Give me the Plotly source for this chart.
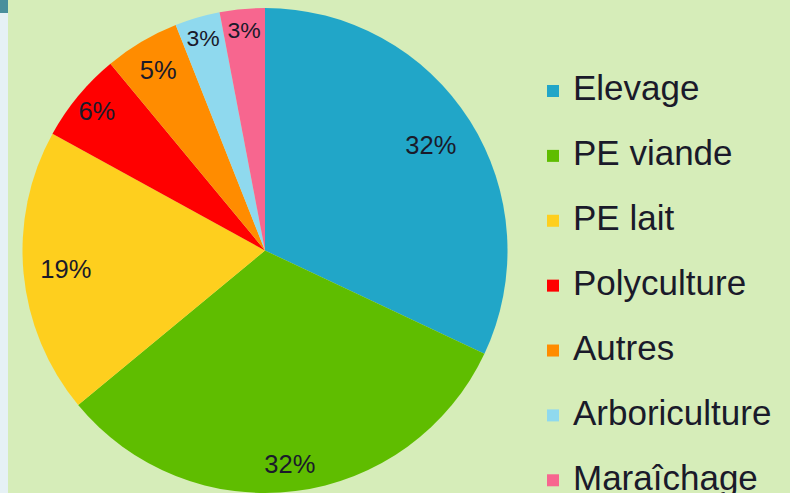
import plotly.graph_objects as go

categories = ["Elevage", "PE viande", "PE lait", "Polyculture", "Autres", "Arboriculture", "Maraîchage"]
values = [32, 32, 19, 6, 5, 3, 3]
colors = ["#21a6c8", "#5fbd00", "#fecf1e", "#ff0000", "#ff8c00", "#8fd9ee", "#f7668f"]

W, H = 790, 493
BG = "#d6edb9"
FONT = "Liberation Sans, Arial, sans-serif"
TXT = "#1a1a2a"
LEG_BASE = 23.8
PCT_SIZE = 25.5
NB = "\u00a0"

# legend labels: larger visible text via span, extra blank line for spacing
legend_labels = []
for i, c in enumerate(categories):
    t = f'<span style="font-size:35px">{c}</span>'
    if i < len(categories) - 1:
        t += "<br> "
    legend_labels.append(t)

domain = dict(x=[22 / W, 508 / W], y=[0, 485 / H])
n = len(values)


def positions(show):
    return ["inside" if s else "none" for s in show]


fig = go.Figure()
# full pie (slices + legend); also labels the two thinnest slices
fig.add_trace(go.Pie(
    labels=legend_labels,
    values=values,
    sort=False,
    direction="clockwise",
    rotation=0,
    marker=dict(colors=colors, line=dict(width=0)),
    textinfo="percent",
    textposition=positions([0, 0, 0, 0, 0, 1, 1]),
    insidetextorientation="horizontal",
    textfont=dict(family=FONT, size=PCT_SIZE, color=TXT),
    hoverinfo="label+percent",
    domain=domain,
))

# transparent rings carrying the percentage labels near the rim
for hole, show, tmpl in [(0.62, [1, 0, 0, 0, 0, 0, 0], "%{percent}"),
                         (0.65, [0, 0, 1, 0, 0, 0, 0], "%{percent}"),
                         (0.80, [0, 1, 0, 0, 0, 0, 0], NB * 7 + "%{percent}"),
                         (0.80, [0, 0, 0, 1, 0, 0, 0], "%{percent}"),
                         (0.70, [0, 0, 0, 0, 1, 0, 0], "%{percent}")]:
    fig.add_trace(go.Pie(
        labels=categories,
        values=values,
        sort=False,
        direction="clockwise",
        rotation=0,
        hole=hole,
        marker=dict(colors=["rgba(0,0,0,0)"] * n, line=dict(width=0)),
        texttemplate=tmpl,
        textposition=positions(show),
        insidetextorientation="horizontal",
        textfont=dict(family=FONT, size=PCT_SIZE, color=TXT),
        hoverinfo="skip",
        showlegend=False,
        domain=domain,
    ))

first_marker_y = 91
leg_top = first_marker_y - 0.65 * LEG_BASE - 6.5

fig.update_layout(
    width=W,
    height=H,
    margin=dict(l=0, r=0, t=0, b=0, autoexpand=False),
    paper_bgcolor=BG,
    plot_bgcolor=BG,
    showlegend=True,
    legend=dict(
        x=533 / W,
        xanchor="left",
        y=(H - leg_top) / H,
        yanchor="top",
        valign="top",
        font=dict(family=FONT, size=LEG_BASE, color=TXT),
        bgcolor="rgba(0,0,0,0)",
    ),
    shapes=[
        dict(type="rect", xref="paper", yref="paper", x0=0, x1=8 / W, y0=0, y1=1,
             fillcolor="#e6f1f5", line=dict(width=0), layer="below"),
        dict(type="rect", xref="paper", yref="paper", x0=0, x1=8 / W, y0=(H - 13) / H, y1=1,
             fillcolor="#4a8f9c", line=dict(width=0), layer="below"),
    ],
)

fig.write_html(
    "out.html",
    config={"displayModeBar": False},
    post_script="document.body.style.margin='0';document.body.style.overflow='hidden';",
)
